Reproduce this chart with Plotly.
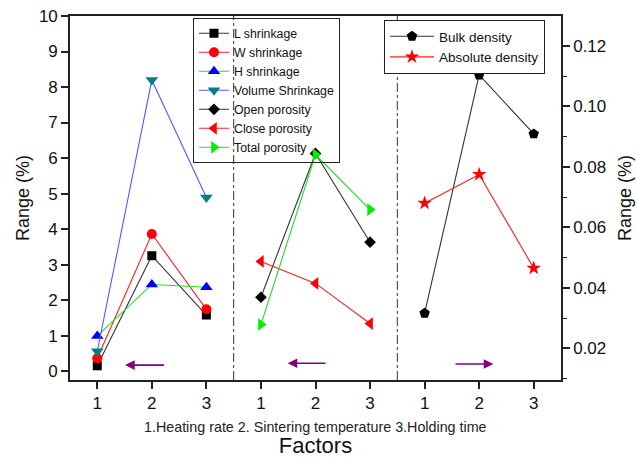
import plotly.graph_objects as go

# Factor levels within each group and the tick labels shown under them
levels = [1, 2, 3]
tick_text = ["1", "2", "3"]

# Shrinkage ranges (%) versus heating rate
l_shrinkage = [0.15, 3.25, 1.58]
w_shrinkage = [0.36, 3.86, 1.74]
h_shrinkage = [0.99, 2.44, 2.36]
volume_shrinkage = [0.56, 8.20, 4.89]

# Porosity ranges (%) versus sintering temperature
open_porosity = [2.08, 6.13, 3.63]
close_porosity = [3.09, 2.47, 1.34]
total_porosity = [1.31, 6.10, 4.55]

# Density ranges versus holding time (right axis)
bulk_density = [0.0316, 0.1104, 0.0909]
absolute_density = [0.0680, 0.0775, 0.0465]

FONT = "Liberation Sans, Arial, sans-serif"


def group_x(group):
    """x positions of the three levels of a factor group (0, 1 or 2)."""
    return [group * len(levels) + v for v in levels]


fig = go.Figure()


def add_series(group, values, name, symbol, mcolor, lcolor, size, legend="legend", yaxis="y"):
    fig.add_trace(go.Scatter(
        x=group_x(group), y=values, name=name, mode="lines+markers",
        line=dict(color=lcolor, width=1.1),
        marker=dict(symbol=symbol, color=mcolor, size=size, line=dict(width=0)),
        legend=legend, yaxis=yaxis,
    ))


add_series(0, l_shrinkage, "L shrinkage", "square", "#000000", "#333333", 9)
add_series(0, w_shrinkage, "W shrinkage", "circle", "#FF0000", "#FF2020", 10)
add_series(0, h_shrinkage, "H shrinkage", "triangle-up", "#0000FF", "#22DD22", 11)
add_series(0, volume_shrinkage, "Volume Shrinkage", "triangle-down", "#008080", "#5555FF", 11)
add_series(1, open_porosity, "Open porosity", "diamond", "#000000", "#333333", 9)
add_series(1, close_porosity, "Close porosity", "triangle-left", "#FF0000", "#FF2020", 11)
add_series(1, total_porosity, "Total porosity", "triangle-right", "#00EE00", "#22DD22", 11)
add_series(2, bulk_density, "Bulk density", "pentagon", "#000000", "#333333", 11,
           legend="legend2", yaxis="y2")
add_series(2, absolute_density, "Absolute density", "star", "#FF0000", "#FF2020", 11,
           legend="legend2", yaxis="y2")

# Dash-dot separators between the factor groups
for xs in (3.5, 6.5):
    fig.add_shape(type="line", xref="x", yref="paper", x0=xs, x1=xs, y0=0, y1=1,
                  line=dict(color="#333333", width=1, dash="dashdot"))

# Purple direction arrows at the bottom of each group
arrows = [(2.25, 1.51, 0.17), (5.21, 4.49, 0.22), (7.54, 8.26, 0.20)]
for x_tail, x_head, y_arr in arrows:
    fig.add_annotation(x=x_head, y=y_arr, ax=x_tail, ay=y_arr, xref="x", yref="y",
                       axref="x", ayref="y", showarrow=True, arrowhead=2,
                       arrowsize=1.2, arrowwidth=1.6, arrowcolor="#800080", text="")

fig.add_annotation(text="1.Heating rate 2. Sintering temperature 3.Holding time",
                   xref="paper", yref="paper", x=0.5, y=-0.129, showarrow=False,
                   xanchor="center", yanchor="middle",
                   font=dict(family=FONT, size=14.3, color="#222222"))

axis_common = dict(showline=True, linecolor="#222222", linewidth=1.6,
                   ticks="outside", ticklen=7, tickwidth=1.5, tickcolor="#222222",
                   showgrid=False, zeroline=False, automargin=False,
                   tickfont=dict(family=FONT, size=17, color="#111111"))

tickvals = [x for g in range(3) for x in group_x(g)]
fig.update_layout(
    width=637, height=458,
    margin=dict(l=70, r=76, t=16, b=78),
    plot_bgcolor="white", paper_bgcolor="white",
    font=dict(family=FONT, color="#111111"),
    xaxis=dict(range=[0.5, 9.5], tickvals=tickvals, ticktext=tick_text * 3,
               mirror=True,
               title=dict(text="Factors", font=dict(family=FONT, size=22), standoff=29),
               **axis_common),
    yaxis=dict(range=[-0.25, 10], tickvals=list(range(0, 11)),
               title=dict(text="Range (%)", font=dict(family=FONT, size=18), standoff=5),
               **axis_common),
    yaxis2=dict(range=[0.0095, 0.1299], overlaying="y", side="right",
                tickvals=[0.02, 0.04, 0.06, 0.08, 0.10, 0.12],
                ticktext=["0.02", "0.04", "0.06", "0.08", "0.10", "0.12"],
                minor=dict(tickvals=[0.01, 0.03, 0.05, 0.07, 0.09, 0.11],
                           ticks="outside", ticklen=4, tickwidth=1.2, tickcolor="#222222"),
                title=dict(text="Range (%)", font=dict(family=FONT, size=18), standoff=13),
                **axis_common),
    legend=dict(x=0.2505, y=0.995, xanchor="left", yanchor="top",
                bgcolor="rgba(255,255,255,0)", bordercolor="#222222", borderwidth=1,
                font=dict(family=FONT, size=12.3, color="#111111"),
                itemwidth=30, tracegroupgap=0),
    legend2=dict(x=0.6395, y=0.989, xanchor="left", yanchor="top",
                 bgcolor="white", bordercolor="#222222", borderwidth=1,
                 font=dict(family=FONT, size=13.5, color="#111111"),
                 itemwidth=44, tracegroupgap=0),
    showlegend=True,
)

fig.write_html("out.html")
